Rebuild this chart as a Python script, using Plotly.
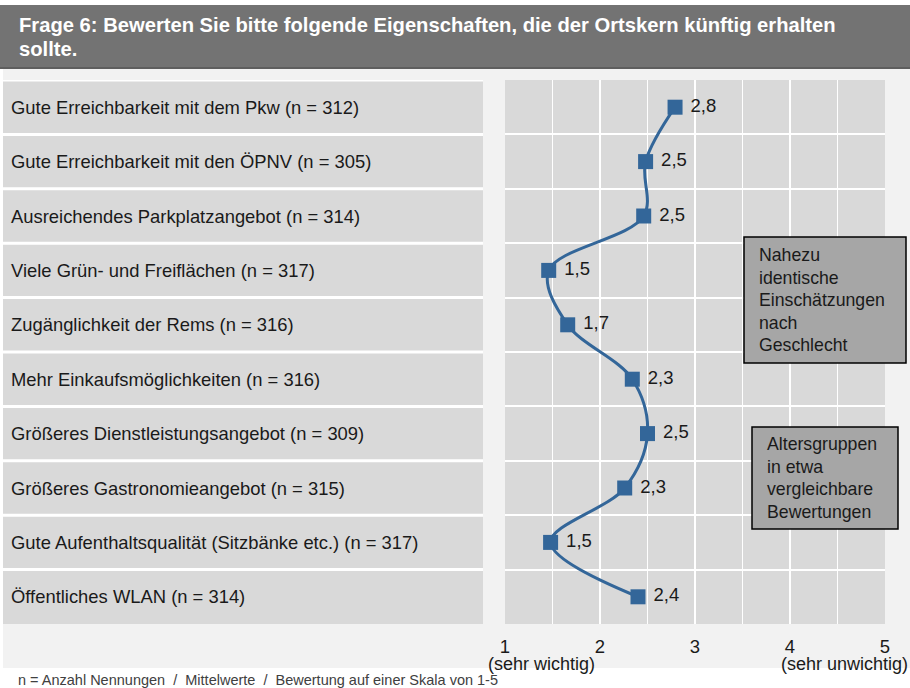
import plotly.graph_objects as go

# ---- data ----
categories = [
    "Gute Erreichbarkeit mit dem Pkw",
    "Gute Erreichbarkeit mit den ÖPNV",
    "Ausreichendes Parkplatzangebot",
    "Viele Grün- und Freiflächen",
    "Zugänglichkeit der Rems",
    "Mehr Einkaufsmöglichkeiten",
    "Größeres Dienstleistungsangebot",
    "Größeres Gastronomieangebot",
    "Gute Aufenthaltsqualität (Sitzbänke etc.)",
    "Öffentliches WLAN",
]
n_counts = [312, 305, 314, 317, 316, 316, 309, 315, 317, 314]
mean_values = [2.79, 2.48, 2.46, 1.46, 1.66, 2.34, 2.50, 2.26, 1.48, 2.40]
tick_values = [1, 2, 3, 4, 5]
tick_labels = ["1", "2", "3", "4", "5"]
title_lines = [
    "Frage 6: Bewerten Sie bitte folgende Eigenschaften, die der Ortskern künftig erhalten",
    "sollte.",
]
box1_lines = ["Nahezu", "identische", "Einschätzungen", "nach", "Geschlecht"]
box2_lines = ["Altersgruppen", "in etwa", "vergleichbare", "Bewertungen"]
footnote = "n = Anzahl Nennungen  /  Mittelwerte  /  Bewertung auf einer Skala von 1-5"

# ---- layout geometry helpers ----
W, H = 910, 688
L, R, T, B = 505, 25, 80, 64
PW, PH = W - L - R, H - T - B
FONT = "Liberation Sans, Arial, sans-serif"
BLUE = "#336699"
TXT = "#1a1a1a"


def xp(px):
    return (px - L) / PW


def yp(py):
    return (H - B - py) / PH


rows = list(range(len(categories)))
labels = [f"{c} (n = {n})" for c, n in zip(categories, n_counts)]
value_text = [f"{v:.1f}".replace(".", ",") for v in mean_values]

fig = go.Figure()
fig.add_trace(go.Scatter(
    x=mean_values, y=rows,
    mode="lines+markers+text",
    line=dict(color=BLUE, width=3, shape="spline", smoothing=1.0),
    marker=dict(symbol="square", size=15, color=BLUE),
    text=[" " + t for t in value_text],
    textposition="middle right",
    textfont=dict(family=FONT, size=18.5, color=TXT),
    hoverinfo="skip",
    showlegend=False,
    cliponaxis=False,
))

shapes = []
# light panel
shapes.append(dict(type="rect", xref="paper", yref="paper",
                   x0=xp(3), x1=xp(910), y0=yp(668), y1=yp(68),
                   fillcolor="#f2f2f2", line=dict(width=0), layer="below"))
# title bar
shapes.append(dict(type="rect", xref="paper", yref="paper",
                   x0=xp(0), x1=xp(910), y0=yp(68), y1=yp(5),
                   fillcolor="#737373", line=dict(width=0), layer="below"))
shapes.append(dict(type="line", xref="paper", yref="paper",
                   x0=xp(0), x1=xp(910), y0=yp(68), y1=yp(68),
                   line=dict(color="#5e5e5e", width=2), layer="below"))
# plot area
shapes.append(dict(type="rect", xref="x domain", yref="y domain",
                   x0=0, x1=1, y0=0, y1=1,
                   fillcolor="#d9d9d9", line=dict(width=0), layer="below"))
# left label panel
shapes.append(dict(type="rect", xref="paper", yref="paper",
                   x0=xp(3), x1=xp(483), y0=0, y1=1,
                   fillcolor="#d9d9d9", line=dict(width=0), layer="below"))
for i in range(len(categories)):
    shapes.append(dict(type="line", xref="paper", yref="y",
                       x0=xp(3), x1=xp(483), y0=i - 0.5, y1=i - 0.5,
                       line=dict(color="white", width=3), layer="below"))
# info boxes
shapes.append(dict(type="rect", xref="paper", yref="paper",
                   x0=xp(744), x1=xp(906), y0=yp(363), y1=yp(237),
                   fillcolor="#a6a6a6", line=dict(color="black", width=1.5), layer="above"))
shapes.append(dict(type="rect", xref="paper", yref="paper",
                   x0=xp(752), x1=xp(898), y0=yp(529), y1=yp(427),
                   fillcolor="#a6a6a6", line=dict(color="black", width=1.5), layer="above"))

ann = []
for k, t in enumerate(title_lines):
    ann.append(dict(text=f"<b>{t}</b>", xref="paper", yref="paper",
                    x=xp(17), y=yp(25 + 24.5 * k), xanchor="left", yanchor="middle",
                    showarrow=False, font=dict(family=FONT, size=20.2, color="white")))
for i, lab in enumerate(labels):
    ann.append(dict(text=lab, xref="paper", yref="y", x=xp(9), y=i,
                    xanchor="left", yanchor="middle", showarrow=False,
                    font=dict(family=FONT, size=18.4, color=TXT)))
for k, t in enumerate(box1_lines):
    ann.append(dict(text=t, xref="paper", yref="paper", x=xp(757), y=yp(255 + 22.5 * k),
                    xanchor="left", yanchor="middle", showarrow=False,
                    font=dict(family=FONT, size=17.7, color=TXT)))
for k, t in enumerate(box2_lines):
    ann.append(dict(text=t, xref="paper", yref="paper", x=xp(765), y=yp(444 + 22.5 * k),
                    xanchor="left", yanchor="middle", showarrow=False,
                    font=dict(family=FONT, size=17.7, color=TXT)))
ann.append(dict(text="(sehr wichtig)", xref="paper", yref="paper", x=xp(486), y=yp(664),
                xanchor="left", yanchor="middle", showarrow=False,
                font=dict(family=FONT, size=18, color=TXT)))
ann.append(dict(text="(sehr unwichtig)", xref="paper", yref="paper", x=xp(910), y=yp(664),
                xanchor="right", yanchor="middle", showarrow=False,
                font=dict(family=FONT, size=18, color=TXT)))
ann.append(dict(text=footnote, xref="paper", yref="paper", x=xp(16), y=yp(680),
                xanchor="left", yanchor="middle", showarrow=False,
                font=dict(family=FONT, size=14.5, color="#404040")))

fig.update_layout(
    width=W, height=H,
    margin=dict(l=L, r=R, t=T, b=B, pad=0),
    paper_bgcolor="white",
    plot_bgcolor="rgba(0,0,0,0)",
    shapes=shapes,
    annotations=ann,
    xaxis=dict(range=[1, 5], tickvals=tick_values, ticktext=tick_labels,
               showgrid=True, gridcolor="white", gridwidth=1.5,
               minor=dict(dtick=0.5, showgrid=True, gridcolor="white", gridwidth=1.5),
               zeroline=False, showline=False,
               ticks="outside", ticklen=6, tickcolor="rgba(0,0,0,0)",
               tickfont=dict(family=FONT, size=18.5, color=TXT),
               fixedrange=True),
    yaxis=dict(range=[len(categories) - 0.5, -0.5],
               tickvals=[i - 0.5 for i in range(len(categories) + 1)],
               showticklabels=False, showgrid=True, gridcolor="white", gridwidth=2,
               zeroline=False, showline=False, fixedrange=True),
    font=dict(family=FONT),
)

fig.write_html("out.html",
               config={"displayModeBar": False, "staticPlot": True},
               post_script="document.body.style.margin='0';document.body.style.overflow='hidden';")
